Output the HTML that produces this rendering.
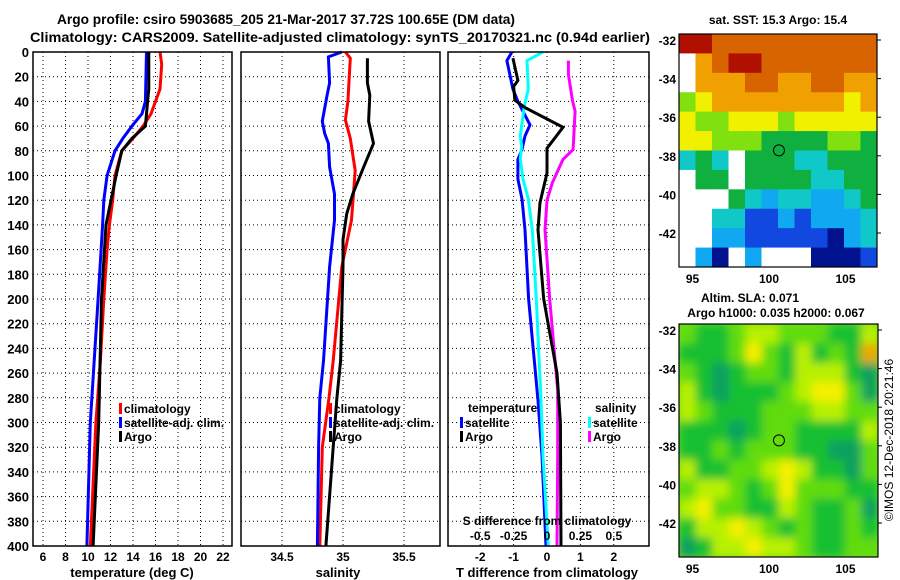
<!DOCTYPE html>
<html><head><meta charset="utf-8"><style>
html,body{margin:0;padding:0;background:#fff;}
svg{display:block;font-family:"Liberation Sans",sans-serif;font-weight:bold;}
</style></head><body>
<svg id="fig" width="900" height="580" viewBox="0 0 900 580" xmlns="http://www.w3.org/2000/svg">
<defs><filter id="blur" x="-0.1" y="-0.1" width="1.2" height="1.2"><feGaussianBlur stdDeviation="4.5"/></filter>
<clipPath id="clip2"><rect x="679" y="324" width="199" height="233"/></clipPath></defs>
<text x="57" y="24" font-size="14" textLength="458" lengthAdjust="spacingAndGlyphs">Argo profile: csiro 5903685_205 21-Mar-2017 37.72S 100.65E (DM data)</text>
<text x="30" y="42" font-size="14" textLength="620" lengthAdjust="spacingAndGlyphs">Climatology: CARS2009. Satellite-adjusted climatology: synTS_20170321.nc (0.94d earlier)</text>
</svg>
<script>
// ---------- data ----------
const depthTicks=[0,20,40,60,80,100,120,140,160,180,200,220,240,260,280,300,320,340,360,380,400];
const tTicks=[6,8,10,12,14,16,18,20,22];
const sTicks=[34.5,35,35.5];
const dTTicks=[-2,-1,0,1,2];
const dSTicks=[-0.5,-0.25,0,0.25,0.5];
const dSTickLabels=["-0.5","-0.25","0","0.25","0.5"];

const tClimDepth=[0,10,30,40,50,60,70,80,100,120,140,160,200,250,300,350,400];
const tClim=[16.4,16.55,16.4,16.0,15.6,14.9,14.0,13.0,12.4,12.2,11.9,11.7,11.4,11.1,10.7,10.45,10.2];
const tSatDepth=[0,40,50,60,70,80,100,120,140,200,300,400];
const tSat=[15.2,15.1,14.8,13.9,13.1,12.4,11.7,11.4,11.3,10.9,10.2,9.9];
const tArgoDepth=[0,30,40,60,70,80,100,140,200,300,400];
const tArgo=[15.4,15.4,15.3,15.1,13.9,13.0,12.5,11.6,11.2,10.95,10.45];

const sClimDepth=[0,5,40,55,70,96,136,174,250,280,320,400];
const sClim=[35.02,35.06,35.04,35.02,35.06,35.10,35.07,34.99,34.92,34.885,34.83,34.81];
const sSatDepth=[0,4,25,35,56,66,74,93,115,136,174,250,280,320,400];
const sSat=[34.99,34.88,34.89,34.87,34.83,34.85,34.88,34.89,34.93,34.93,34.89,34.84,34.81,34.80,34.79];
const sArgoDepth=[5,25,35,56,74,93,115,131,152,174,250,280,320,400];
const sArgo=[35.20,35.20,35.22,35.21,35.25,35.17,35.08,35.03,35.00,35.00,34.98,34.95,34.92,34.86];

const dTSatDepth=[0,7,30,40,59,68,79,87,103,119,144,200,282,327,400];
const dTSat=[-1.05,-1.20,-1.02,-0.87,-0.51,-0.66,-0.75,-0.87,-0.87,-0.75,-0.66,-0.55,-0.27,-0.15,-0.03];
const dTArgoDepth=[5,23,28,39,45,61,78,98,122,144,200,260,300,400];
const dTArgo=[-1.02,-0.87,-1.0,-0.96,-0.66,0.48,0.0,0.0,-0.21,-0.27,-0.1,0.3,0.4,0.42];
const dSSatDepth=[0,7,30,44,60,68,76,87,103,119,144,200,282,327,400];
const dSSat=[-0.03,-0.15,-0.14,-0.17,-0.19,-0.20,-0.19,-0.20,-0.18,-0.14,-0.11,-0.08,-0.045,-0.03,0.01];
const dSArgoDepth=[7,18,39,48,79,87,106,120,144,200,274,327,400];
const dSArgo=[0.16,0.16,0.19,0.21,0.195,0.12,0.04,0.0,-0.015,0.02,0.08,0.08,0.075];

const latTicks=[-32,-34,-36,-38,-40,-42];
const lonTicks=[95,100,105];
const argoLon=100.65, argoLat=-37.72;
const sstGrid=[
"aa9999999999","089aa9999999","088899889988","678888888878",
"766777677777","776665555665","454055544555","055055554455",
"000543443345","004422323334","003322222134","031030001112"];
const slaGrid=[
"211233222113","111242131215","210122133310","310111234420",
"321112223322","111012211113","112122211002","311223431102",
"233212422211","342211321120","133432121121","013343321122"];

// ---------- helpers ----------
const svg=document.getElementById('fig');
const NS='http://www.w3.org/2000/svg';
function mk(tag,attrs,parent){const e=document.createElementNS(NS,tag);for(const k in attrs)e.setAttribute(k,attrs[k]);(parent||svg).appendChild(e);return e;}
const Y0=52,Y1=546;
const yD=d=>Y0+d*(Y1-Y0)/400;
const P1={x0:33,x1:232}, P2={x0:241,x1:440}, P3={x0:448,x1:649};
const xT=t=>43+(t-6)*11.25;
const xS=s=>282+(s-34.5)*122;
const xDT=t=>547+t*33.4;
const xDS=s=>547+s*133.6;

function grid(P,xs){
  const g=mk('g',{});
  
  
  depthTicks.forEach(d=>{if(d>0&&d<400)mk('line',{x1:P.x0,x2:P.x1,y1:yD(d),y2:yD(d),stroke:'#000','stroke-width':1,'stroke-dasharray':'1 3'},g);});
  xs.forEach(x=>mk('line',{x1:x,x2:x,y1:Y0,y2:Y1,stroke:'#000','stroke-width':1,'stroke-dasharray':'1 3'},g));
}
function frame(P,name){
  const r=mk('rect',{x:P.x0,y:Y0,width:P.x1-P.x0,height:Y1-Y0,fill:'none',stroke:'#000','stroke-width':1.5});
  
  
}
function series(depths,vals,xf,color,name){
  const pts=depths.map((d,i)=>xf(vals[i]).toFixed(1)+','+yD(d).toFixed(1)).join(' ');
  const p=mk('polyline',{points:pts,fill:'none',stroke:color,'stroke-width':3,'stroke-linejoin':'miter'});
  
  
}
function txt(x,y,s,size,anchor,name){
  const t=mk('text',{x:x,y:y,'font-size':size,'text-anchor':anchor||'start'});
  t.textContent=s;
  
  
  return t;
}
function legend(x,y,color,label,name){
  const r=mk('rect',{x:x,y:y-10,width:3,height:11,fill:color});
  
  
  txt(x+5,y,label,12,'start',name);
}

// ---------- panel 1 ----------
grid(P1,tTicks.map(xT));
series(tClimDepth,tClim,xT,'#ff0000','temp-climatology-line');
series(tSatDepth,tSat,xT,'#0000ff','temp-satellite-line');
series(tArgoDepth,tArgo,xT,'#000','temp-argo-line');
frame(P1,'temperature-panel');
depthTicks.forEach(d=>txt(29,yD(d)+5,String(d),13,'end','depth-tick-label'));
tTicks.forEach(t=>txt(xT(t),561,String(t),12,'middle','temp-tick-label'));
txt(132,577,'temperature (deg C)',13,'middle','temp-axis-title');
legend(119,413,'#ff0000','climatology','legend-climatology');
legend(119,427,'#0000ff','satellite-adj. clim.','legend-satellite-adj');
legend(119,441,'#000','Argo','legend-argo');

// ---------- panel 2 ----------
grid(P2,sTicks.map(xS));
series(sClimDepth,sClim,xS,'#ff0000','sal-climatology-line');
series(sSatDepth,sSat,xS,'#0000ff','sal-satellite-line');
series(sArgoDepth,sArgo,xS,'#000','sal-argo-line');
frame(P2,'salinity-panel');
sTicks.forEach(s=>txt(xS(s),561,String(s),12,'middle','sal-tick-label'));
txt(338,577,'salinity',13,'middle','sal-axis-title');
legend(329,413,'#ff0000','climatology','legend2-climatology');
legend(329,427,'#0000ff','satellite-adj. clim.','legend2-satellite-adj');
legend(329,441,'#000','Argo','legend2-argo');

// ---------- panel 3 ----------
grid(P3,dTTicks.map(xDT));
series(dTSatDepth,dTSat,xDT,'#0000ff','dT-satellite-line');
series(dSSatDepth,dSSat,xDS,'#00ffff','dS-satellite-line');
series(dSArgoDepth,dSArgo,xDS,'#ff00ff','dS-argo-line');
series(dTArgoDepth,dTArgo,xDT,'#000','dT-argo-line');
frame(P3,'difference-panel');
dTTicks.forEach(t=>txt(xDT(t),561,String(t),12,'middle','dT-tick-label'));
txt(547,577,'T difference from climatology',13,'middle','dT-axis-title');
txt(547,525,'S difference from climatology',12,'middle','dS-axis-title');
dSTicks.forEach((s,i)=>txt(xDS(s),540,dSTickLabels[i],12,'middle','dS-tick-label'));
txt(468,412,'temperature',12,'start','legend-temperature-heading');
legend(460,427,'#0000ff','satellite','legend-t-satellite');
legend(460,441,'#000','Argo','legend-t-argo');
txt(595,412,'salinity',12,'start','legend-salinity-heading');
legend(588,427,'#00ffff','satellite','legend-s-satellite');
legend(588,441,'#ff00ff','Argo','legend-s-argo');

// ---------- maps ----------
const sstColors={'0':'#ffffff','1':'#00128e','2':'#1048e0','3':'#10a8f0','4':'#10c8c8','5':'#10b040','6':'#80e010','7':'#f0f000','8':'#f0a000','9':'#d86400','a':'#b01000'};
const slaColors={'0':'#10a060','1':'#18c030','2':'#60dc10','3':'#b8f000','4':'#f4f000','5':'#f0a800'};
function map(M,gridData,colors,name,filtered){
  const g=mk('g',filtered?{'clip-path':'url(#clip2)'}:{});
  
  
  if(filtered) mk('rect',{x:M.x0,y:M.y0,width:M.x1-M.x0,height:M.y1-M.y0,fill:'#70dc20'},g);
  const inner=mk('g',filtered?{filter:'url(#blur)'}:{},g);
  const rows=gridData.length, cols=gridData[0].length;
  const cw=(M.x1-M.x0)/cols, ch=(M.y1-M.y0)/rows;
  gridData.forEach((row,r)=>{for(let c=0;c<cols;c++){
    const cell=mk('rect',{x:M.x0+c*cw,y:M.y0+r*ch,width:cw+0.5,height:ch+0.5,fill:colors[row[c]]},inner);
    
    
  }});
  const fr=mk('rect',{x:M.x0,y:M.y0,width:M.x1-M.x0,height:M.y1-M.y0,fill:'none',stroke:'#000','stroke-width':1.2});
  
  
  const lonX=l=>692.5+(l-95)*15.3;
  const latY=l=>M.latTop+(-32-l)*19.3;
  latTicks.forEach(l=>{
    txt(676,latY(l)+5,String(l),12,'end','lat-tick-label');
    mk('line',{x1:M.x1,x2:M.x1+4,y1:latY(l),y2:latY(l),stroke:'#000'});
  });
  lonTicks.forEach(l=>txt(lonX(l),M.y1+16,String(l),12,'middle','lon-tick-label'));
  const c=mk('circle',{cx:lonX(argoLon),cy:latY(argoLat),r:5.5,fill:'none',stroke:'#000','stroke-width':1});
  
  
}
const M1={x0:679,x1:877,y0:34,y1:267,latTop:40};
const M2={x0:679,x1:878,y0:324,y1:557,latTop:330};
map(M1,sstGrid,sstColors,'sst-map',false);
map(M2,slaGrid,slaColors,'sla-map',true);
txt(778,24,'sat. SST: 15.3 Argo: 15.4',12,'middle','sst-map-title');
txt(750,302,'Altim. SLA: 0.071',12,'middle','sla-map-title');
txt(776,317,'Argo h1000: 0.035 h2000: 0.067',12,'middle','sla-map-subtitle');
const cp=txt(0,0,'©IMOS 12-Dec-2018 20:21:46',12,'middle','copyright-label');
cp.setAttribute('font-weight','normal');
cp.setAttribute('transform','translate(893,440) rotate(-90)');
</script>
</body></html>
